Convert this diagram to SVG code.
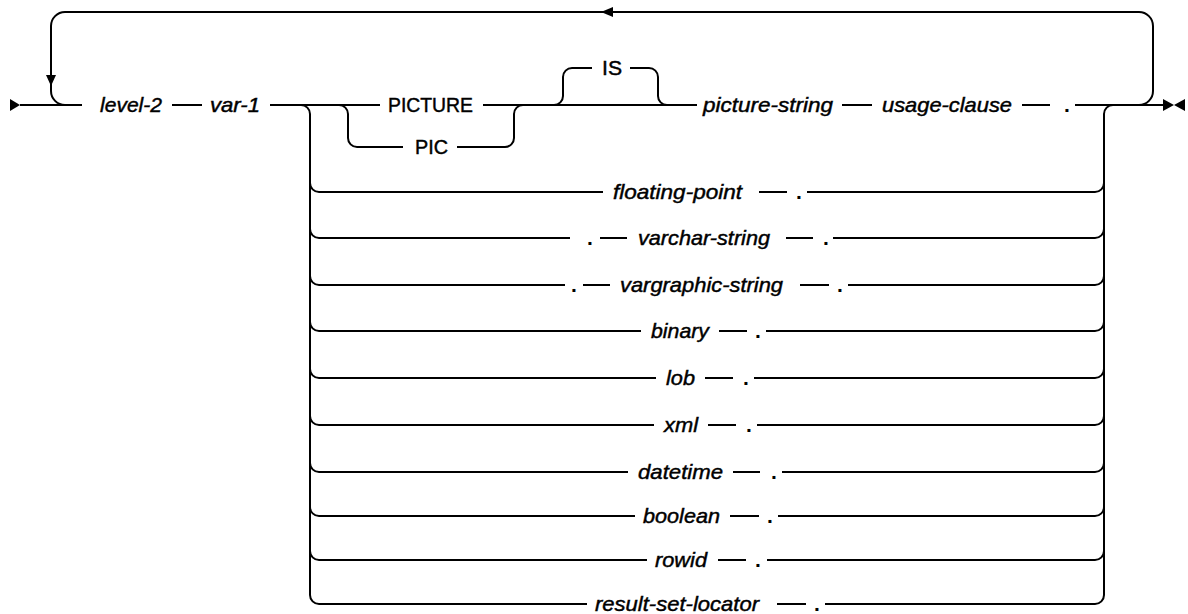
<svg xmlns="http://www.w3.org/2000/svg" width="1188" height="614" viewBox="0 0 1188 614">
<style>
.ln{fill:none;stroke:#000;stroke-width:2}
.ah{fill:#000;stroke:none}
.t{font-family:"Liberation Sans",Arial,sans-serif;font-size:21px;fill:#000;stroke:#000;stroke-width:0.45}
.i{font-style:italic}
.d{font-family:"Liberation Sans",Arial,sans-serif;font-size:21px;font-weight:bold;fill:#000}
</style>
<rect width="1188" height="614" fill="#fff"/>
<g id="connectors">
  <polygon class="ah" points="10,99 20,105 10,111"/>
  <polygon class="ah" points="1163,99 1174,105 1163,111"/>
  <polygon class="ah" points="1185,99 1174,105 1185,111"/>
  <path class="ln" d="M65 105 A14 14 0 0 1 51 91 L51 26 A14 14 0 0 1 65 12 L1139 12 A14 14 0 0 1 1153 26 L1153 91 A14 14 0 0 1 1139 105"/>
  <polygon class="ah" points="46,75 56,75 51,86"/>
  <polygon class="ah" points="613,7 613,17 601,12"/>
  <path class="ln" d="M20 105 H82 M172 105 H202 M270 105 H380 M483 105 H697 M842 105 H872 M1022 105 H1050 M1075 105 H1163"/>
  <path class="ln" d="M339 105 A9 9 0 0 1 348 114 L348 138 A9 9 0 0 0 357 147 L403 147"/>
  <path class="ln" d="M457 147 L505 147 A9 9 0 0 0 514 138 L514 114 A9 9 0 0 1 523 105"/>
  <path class="ln" d="M554 105 A9 9 0 0 0 563 96 L563 77 A9 9 0 0 1 572 68 L592 68"/>
  <path class="ln" d="M630 68 L649 68 A9 9 0 0 1 658 77 L658 96 A9 9 0 0 0 667 105"/>
  <path class="ln" d="M301 105 A9 9 0 0 1 310 114 L310 595 A9 9 0 0 0 319 604"/>
  <path class="ln" d="M1113 105 A9 9 0 0 0 1104 114 L1104 595 A9 9 0 0 1 1095 604"/>
  <path class="ln" d="M310 183 A9 9 0 0 0 319 192 H603 M759 192 H787 M807 192 H1095 A9 9 0 0 0 1104 183"/>
  <path class="ln" d="M310 229 A9 9 0 0 0 319 238 H570 M600 238 H627 M786 238 H813 M833 238 H1095 A9 9 0 0 0 1104 229"/>
  <path class="ln" d="M310 276 A9 9 0 0 0 319 285 H565 M583 285 H610 M800 285 H829 M848 285 H1095 A9 9 0 0 0 1104 276"/>
  <path class="ln" d="M310 322 A9 9 0 0 0 319 331 H641 M719 331 H747 M766 331 H1095 A9 9 0 0 0 1104 322"/>
  <path class="ln" d="M310 369 A9 9 0 0 0 319 378 H656 M705 378 H733 M754 378 H1095 A9 9 0 0 0 1104 369"/>
  <path class="ln" d="M310 416 A9 9 0 0 0 319 425 H654 M708 425 H736 M757 425 H1095 A9 9 0 0 0 1104 416"/>
  <path class="ln" d="M310 463 A9 9 0 0 0 319 472 H628 M733 472 H760 M782 472 H1095 A9 9 0 0 0 1104 463"/>
  <path class="ln" d="M310 507 A9 9 0 0 0 319 516 H635 M730 516 H759 M778 516 H1095 A9 9 0 0 0 1104 507"/>
  <path class="ln" d="M310 551 A9 9 0 0 0 319 560 H647 M718 560 H746 M767 560 H1095 A9 9 0 0 0 1104 551"/>
  <path class="ln" d="M319 604 H587 M777 604 H806 M825 604 H1095"/>
</g>
<g id="n-level2"><text class="t i" x="100" y="112" textLength="62" lengthAdjust="spacingAndGlyphs">level-2</text></g>
<g id="n-var1"><text class="t i" x="210" y="112" textLength="50" lengthAdjust="spacingAndGlyphs">var-1</text></g>
<g id="n-picture"><text class="t" x="388" y="112" textLength="85" lengthAdjust="spacingAndGlyphs">PICTURE</text></g>
<g id="n-pic"><text class="t" x="415" y="154" textLength="33" lengthAdjust="spacingAndGlyphs">PIC</text></g>
<g id="n-is"><text class="t" x="602" y="75" textLength="20" lengthAdjust="spacingAndGlyphs">IS</text></g>
<g id="n-picture-string"><text class="t i" x="703" y="112" textLength="130" lengthAdjust="spacingAndGlyphs">picture-string</text></g>
<g id="n-usage-clause"><text class="t i" x="882" y="112" textLength="130" lengthAdjust="spacingAndGlyphs">usage-clause</text></g>
<g id="n-dot-main"><text class="d" x="1064" y="112">.</text></g>
<g id="n-floating-point"><text class="t i" x="613" y="199" textLength="129" lengthAdjust="spacingAndGlyphs">floating-point</text><text class="d" x="796" y="199">.</text></g>
<g id="n-varchar"><text class="d" x="587" y="245">.</text><text class="t i" x="638" y="245" textLength="132" lengthAdjust="spacingAndGlyphs">varchar-string</text><text class="d" x="823" y="245">.</text></g>
<g id="n-vargraphic"><text class="d" x="571" y="292">.</text><text class="t i" x="620" y="292" textLength="163" lengthAdjust="spacingAndGlyphs">vargraphic-string</text><text class="d" x="837" y="292">.</text></g>
<g id="n-binary"><text class="t i" x="651" y="338" textLength="58" lengthAdjust="spacingAndGlyphs">binary</text><text class="d" x="755" y="338">.</text></g>
<g id="n-lob"><text class="t i" x="666" y="385" textLength="29" lengthAdjust="spacingAndGlyphs">lob</text><text class="d" x="743" y="385">.</text></g>
<g id="n-xml"><text class="t i" x="664" y="432" textLength="34" lengthAdjust="spacingAndGlyphs">xml</text><text class="d" x="746" y="432">.</text></g>
<g id="n-datetime"><text class="t i" x="638" y="479" textLength="85" lengthAdjust="spacingAndGlyphs">datetime</text><text class="d" x="771" y="479">.</text></g>
<g id="n-boolean"><text class="t i" x="643" y="523" textLength="77" lengthAdjust="spacingAndGlyphs">boolean</text><text class="d" x="767" y="523">.</text></g>
<g id="n-rowid"><text class="t i" x="655" y="567" textLength="52" lengthAdjust="spacingAndGlyphs">rowid</text><text class="d" x="755" y="567">.</text></g>
<g id="n-result-set-locator"><text class="t i" x="595" y="611" textLength="164" lengthAdjust="spacingAndGlyphs">result-set-locator</text><text class="d" x="814" y="611">.</text></g>
</svg>
